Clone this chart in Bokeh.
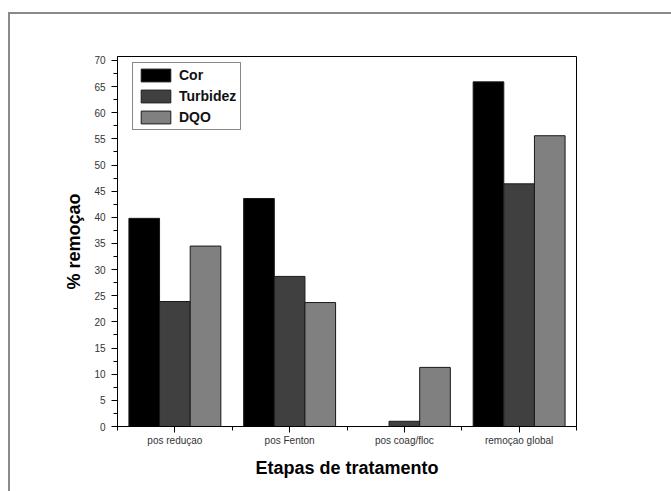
from bokeh.plotting import figure
from bokeh.models import ColumnDataSource, FixedTicker, Legend, LegendItem
from bokeh.transform import dodge
from bokeh.embed import file_html
from bokeh.resources import INLINE

# Treatment stages and removal percentages per parameter
categories = ["pos reduçao", "pos Fenton", "pos coag/floc", "remoçao global"]
cor = [39.8, 43.6, 0.0, 65.9]
turbidez = [23.9, 28.7, 1.0, 46.4]
dqo = [34.5, 23.7, 11.3, 55.6]
series_names = ["Cor", "Turbidez", "DQO"]
y_ticks = list(range(0, 75, 5))

positions = list(range(1, len(categories) + 1))
source = ColumnDataSource(dict(x=positions, Cor=cor, Turbidez=turbidez, DQO=dqo))

# grey picture frame (top and left edges) painted behind a transparent border;
# the canvas runs past the window so only those two edges show
frame_css = {
    "background-color": "white",
    "background-image": "linear-gradient(#8a8a8a, #8a8a8a), linear-gradient(#8a8a8a, #8a8a8a)",
    "background-size": "2px 100%, 100% 2px",
    "background-position": "8px 12px, 8px 12px",
    "background-repeat": "no-repeat",
}

p = figure(width=684, height=504, x_range=(0.5, 4.5), y_range=(0, 70.75),
           output_backend="svg", toolbar_location=None,
           min_border_left=117, min_border_right=108,
           min_border_top=56, min_border_bottom=78,
           styles=frame_css)

bw = 0.267
colors = ["#000000", "#404040", "#808080"]
offsets = [-bw, 0.0, bw]
renderers = []
for name, col, off in zip(series_names, colors, offsets):
    r = p.vbar(x=dodge("x", off, range=p.x_range), top=name, width=bw,
               source=source, fill_color=col, line_color="#1a1a1a", line_width=1)
    renderers.append(r)

legend = Legend(items=[LegendItem(label=n, renderers=[r]) for n, r in zip(series_names, renderers)],
                location=(15, 296), orientation="vertical",
                glyph_width=37, glyph_height=16, label_height=16, spacing=5,
                padding=4, label_standoff=5, margin=0,
                border_line_color="#111111", border_line_width=1.5,
                background_fill_color="white", background_fill_alpha=1,
                label_text_font="Liberation Sans", label_text_font_style="bold",
                label_text_font_size="14px", label_text_color="#111111")
p.add_layout(legend, "center")

p.xgrid.visible = False
p.ygrid.visible = False
p.outline_line_color = "#000000"
p.outline_line_width = 1
p.background_fill_color = "white"
p.border_fill_color = None

# x axis: stage names at group centres, minor ticks at group boundaries
p.xaxis.ticker = FixedTicker(ticks=positions,
                             minor_ticks=[i + 0.5 for i in range(len(categories) + 1)])
p.xaxis.major_label_overrides = {pos: lab for pos, lab in zip(positions, categories)}
p.xaxis.axis_label = "Etapas de tratamento"

p.yaxis.ticker = FixedTicker(ticks=y_ticks, minor_ticks=[t + 2.5 for t in y_ticks[:-1]])
p.yaxis.axis_label = "% remoçao"

for ax in (p.xaxis, p.yaxis):
    ax.axis_line_color = "#000000"
    ax.major_tick_line_color = "#000000"
    ax.minor_tick_line_color = "#000000"
    ax.major_tick_out = 6
    ax.major_tick_in = 0
    ax.minor_tick_out = 4
    ax.minor_tick_in = 0
    ax.major_label_text_font = "Liberation Sans"
    ax.major_label_text_font_size = "10px"
    ax.major_label_text_color = "#333333"
    ax.axis_label_text_font = "Liberation Sans"
    ax.axis_label_text_font_style = "bold"
    ax.axis_label_text_font_size = "18px"
    ax.axis_label_text_color = "#000000"

p.xaxis.major_label_standoff = 2
p.xaxis.axis_label_standoff = 9
p.yaxis.major_label_standoff = 6
p.yaxis.axis_label_standoff = 7

# keep the page itself from scrolling so nothing but the figure is painted
html = file_html(p, INLINE)
html = html.replace("<head>", "<head><style>html, body { margin: 0; overflow: hidden; }</style>", 1)
open("out.html", "w").write(html)
